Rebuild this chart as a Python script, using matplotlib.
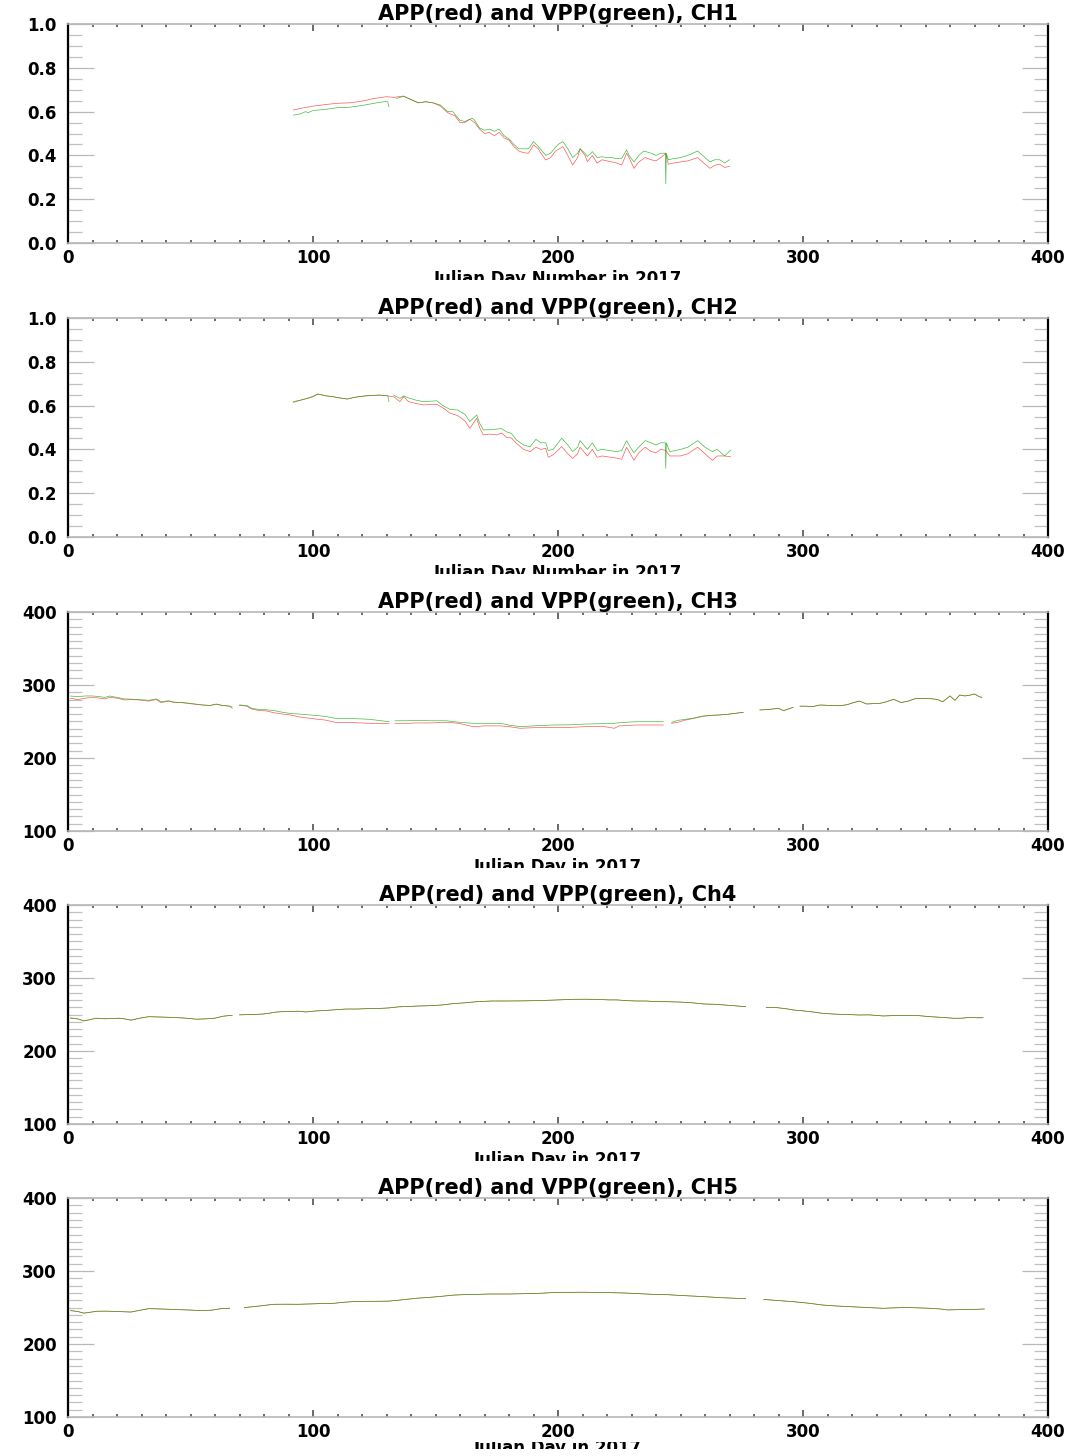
import numpy as np
import matplotlib
matplotlib.use("Agg")
import matplotlib.pyplot as plt
from matplotlib.ticker import MultipleLocator
from matplotlib.transforms import Bbox, TransformedBbox

NAN = np.nan

# ---------------- data ----------------
# CH1 (reflectance)
ch1_red_day = [92, 95, 100, 105, 110, 115, 120, 125, 130, 133, 137, 140, 143, 146, 149, 152, 155, 158,
               160, 162, 164, 166, 168, 170, 172, 174, 176, 178, 180, 182, 184, 186, 188, 190, 192, 193,
               195, 197, 199, 202, 204, 206, 208, 209, 211, 212, 214, 216, 218, 220, 222, 224, 226, 228,
               229, 231, 233, 235.5, 238, 240, 242, 244, 245, 247, 250, 253, 257, 259, 262, 264, 266, 268, 270]
ch1_red = [0.607, 0.615, 0.625, 0.632, 0.638, 0.640, 0.648, 0.660, 0.668, 0.665, 0.671, 0.655, 0.640, 0.645,
           0.640, 0.625, 0.595, 0.580, 0.550, 0.550, 0.565, 0.550, 0.520, 0.500, 0.505, 0.490, 0.505, 0.480,
           0.470, 0.440, 0.420, 0.412, 0.410, 0.448, 0.430, 0.410, 0.379, 0.390, 0.420, 0.440, 0.400, 0.356,
           0.390, 0.430, 0.400, 0.371, 0.400, 0.365, 0.380, 0.375, 0.370, 0.365, 0.356, 0.410, 0.390, 0.341,
           0.370, 0.390, 0.380, 0.375, 0.390, 0.410, 0.360, 0.365, 0.370, 0.375, 0.390, 0.370, 0.341, 0.355,
           0.360, 0.345, 0.350]
ch1_grn_day = [92, 95, 97, 98, 100, 105, 110, 115, 120, 125, 129, 130.5, 131, 131.5, 134, 137, 140, 143, 146,
               149, 152, 155, 157, 160, 162, 165, 166, 168, 170, 172, 174, 176, 178, 180, 182, 184, 188,
               190, 192, 195, 197, 200, 202, 204, 206, 208, 209, 211, 212, 214, 216, 218, 220, 222, 224,
               226, 228, 229, 231, 233, 235, 238, 240, 242, 243.8, 244, 244.2, 245, 247, 250, 253, 257,
               259, 262, 264, 266, 268, 270]
ch1_grn = [0.584, 0.590, 0.600, 0.595, 0.605, 0.610, 0.618, 0.620, 0.628, 0.638, 0.645, 0.645, 0.622, NAN,
           0.660, 0.670, 0.655, 0.640, 0.645, 0.640, 0.630, 0.600, 0.600, 0.560, 0.555, 0.570, 0.560, 0.525,
           0.515, 0.520, 0.510, 0.520, 0.490, 0.475, 0.450, 0.430, 0.430, 0.463, 0.440, 0.400, 0.410, 0.450,
           0.463, 0.430, 0.390, 0.410, 0.430, 0.410, 0.395, 0.417, 0.390, 0.394, 0.390, 0.390, 0.385, 0.386,
           0.425, 0.400, 0.370, 0.400, 0.420, 0.410, 0.400, 0.410, 0.410, 0.270, 0.410, 0.380, 0.385, 0.390,
           0.400, 0.420, 0.400, 0.370, 0.380, 0.380, 0.365, 0.380]

# CH2 (reflectance)
ch2_day = [92, 95, 98, 102, 105, 108, 111, 114, 117, 121, 124, 127, 130, 133, 135.5, 137, 139, 142, 145,
           148, 150.5, 153, 156, 159, 162, 164, 166.8, 168, 169.5, 172, 175, 177, 179, 181, 183, 186,
           188.6, 191, 193, 195, 196, 198, 201.5, 204, 206, 208, 209, 212, 214, 216, 218, 221, 224, 226,
           228, 229.5, 231, 233, 235.6, 238, 240, 242, 244, 245.6, 248, 250, 253, 257, 260, 263, 265,
           268, 270.5]
ch2_red = [0.618, 0.625, 0.633, 0.653, 0.645, 0.641, 0.635, 0.630, 0.638, 0.644, 0.646, 0.648, 0.645, 0.640,
           0.618, 0.641, 0.618, 0.610, 0.603, 0.605, 0.606, 0.590, 0.565, 0.555, 0.530, 0.496, 0.542, 0.500,
           0.466, 0.470, 0.466, 0.475, 0.455, 0.452, 0.428, 0.400, 0.390, 0.410, 0.400, 0.405, 0.364, 0.375,
           0.413, 0.380, 0.359, 0.380, 0.410, 0.370, 0.400, 0.364, 0.370, 0.365, 0.360, 0.355, 0.410, 0.380,
           0.350, 0.385, 0.410, 0.390, 0.385, 0.400, 0.395, 0.370, 0.370, 0.370, 0.380, 0.410, 0.380, 0.350,
           0.370, 0.370, 0.366]
ch2_grn_day = [92, 95, 98, 100, 102, 105, 108, 111, 114, 117, 121, 124, 127, 130.5, 131, 131.5, 133, 135.5,
               137, 139, 142, 145, 148, 150.5, 153, 156, 159, 162, 164, 166.8, 168, 169.5, 172, 175, 177,
               179, 181, 183, 186, 188.6, 191, 193, 195, 196, 198, 201.5, 204, 206, 208, 209, 212, 214, 216,
               218, 221, 224, 226, 228, 229.5, 231, 233, 235.6, 238, 240, 242, 243.8, 244, 244.2, 245.6,
               248, 250, 253, 257, 260, 263, 265, 268, 270.5]
ch2_grn = [0.615, 0.625, 0.635, 0.640, 0.653, 0.645, 0.641, 0.635, 0.630, 0.638, 0.644, 0.646, 0.648, 0.645,
           0.618, NAN, 0.647, 0.633, 0.644, 0.635, 0.625, 0.618, 0.620, 0.622, 0.600, 0.582, 0.580, 0.560,
           0.527, 0.557, 0.520, 0.489, 0.490, 0.493, 0.495, 0.480, 0.473, 0.443, 0.420, 0.412, 0.446, 0.430,
           0.430, 0.395, 0.400, 0.451, 0.420, 0.390, 0.410, 0.440, 0.400, 0.430, 0.395, 0.400, 0.395, 0.390,
           0.395, 0.440, 0.410, 0.385, 0.410, 0.440, 0.430, 0.420, 0.430, 0.430, 0.314, 0.430, 0.390, 0.395,
           0.400, 0.410, 0.440, 0.410, 0.390, 0.400, 0.370, 0.397]

# CH3 (brightness temperature), NaN marks data gaps
ch3_day = [1, 4, 7, 10, 13, 15, 17, 20, 23, 26, 29, 33, 36, 38, 41, 43.5, 46, 48.4, 52, 55, 58, 60.6, 63,
           66, 67, 68.5, 70, 73, 75, 78, 81, 84, 87, 90.6, 95, 98.8, 102, 105, 109, 115, 120, 123, 128,
           131, 132.3, 133.5, 138, 142, 148, 154.5, 159.5, 165.4, 170, 176.7, 180, 184.5, 190, 198, 205,
           211.7, 218, 223, 225, 232, 238, 243, 244.7, 246.4, 249, 252, 255, 259, 263, 266, 269, 272,
           275.6, 279, 282.4, 286, 290, 292, 296, 297.5, 298.8, 301, 304, 307, 311, 315, 318, 320.5, 323,
           326, 329, 331.6, 334, 337, 340, 343, 346, 350, 353, 355, 357, 360, 362, 364, 366, 368, 370,
           372, 373]
ch3_grn = [284.9, 284, 285, 285, 284, 283, 284.9, 283, 281, 280.5, 280, 279, 281, 277, 278.5, 276.5, 276,
           275.5, 274, 272.6, 272, 274, 272, 271, 270, NAN, 272.6, 272, 268, 266.5, 266, 265, 263, 261,
           260, 259, 258, 257, 254.4, 254, 253.5, 253, 251, 249.8, NAN, 251, 251, 251.6, 251, 251, 249,
           247.5, 247.5, 247.5, 245, 243, 244, 245.2, 245.5, 246.6, 247, 247.5, 248.3, 249.7, 249.7, 249.7,
           NAN, 248.8, 251.6, 253, 254.4, 257.5, 258.5, 259, 259.8, 261, 262.6, NAN, 265.8, 266.5, 268,
           264.8, 269.4, NAN, 271, 271, 270.5, 272.6, 272, 271.6, 273, 275.8, 278, 274, 274.5, 275, 277,
           280.4, 276, 278, 281.5, 281.5, 281, 280, 277, 285, 279, 286.3, 285, 286, 287.7, 284, 283]
ch3_red = [281.8, 280, 282, 283, 282, 281, 283, 282, 279.5, 280, 279.5, 278, 280, 275.8, 278, 275.8, 276,
           275, 273.5, 272.6, 272, 273.5, 272, 271, 268, NAN, 272, 271, 267, 265, 264.5, 262, 260.5, 259,
           256, 254.4, 253, 252, 248.9, 248.5, 248, 247.5, 247.5, 247.5, NAN, 247.5, 247.5, 248, 248, 249,
           247.5, 242.9, 244, 244, 243, 240.7, 241.5, 242, 242, 243, 243.5, 240.7, 244, 245.2, 245.2, 245.2,
           NAN, 247.5, 249, 252, 254, 257, 258.5, 259, 259.8, 261, 262.6, NAN, 265.8, 266.5, 268,
           264.8, 269.4, NAN, 271, 271, 270.5, 272.6, 272, 271.6, 273, 275.8, 278, 274, 274.5, 275, 277,
           280.4, 276, 278, 281.5, 281.5, 281, 280, 277, 285, 279, 286.3, 285, 286, 287.7, 284, 283]

# CH4
ch4_day = [1, 4, 6.5, 9, 11.5, 15, 18, 21, 23, 25.7, 28, 31, 33, 38, 43, 48, 52.7, 56, 60, 63, 67, 68.5,
           70, 75, 79, 82, 84, 86.8, 90, 94, 97, 101, 105, 109, 113.5, 118, 122, 125, 128, 131, 135, 139,
           142.8, 147, 152.5, 155, 157.4, 162, 167, 173, 179, 185, 191.4, 196, 201, 206, 211, 216, 220.7,
           224, 228, 232, 236, 240, 245, 250, 255, 259.6, 264, 268, 272, 276.6, 280, 285, 289, 293, 296,
           300, 304, 308, 313, 318, 322.8, 327, 332.7, 337, 342.5, 347, 352, 357, 361.8, 365, 368, 371,
           373.5]
ch4_grn = [244.8, 244, 241, 243, 244.8, 244, 244.5, 244.8, 244, 242, 244, 246, 247, 246.5, 246, 245, 243.4,
           244, 245, 247.5, 249, NAN, 249.5, 250, 250.5, 251.6, 253, 253.8, 254, 254.5, 253.5, 254.8, 255.5,
           256.5, 257.5, 257.5, 258, 258, 258.5, 259, 260.5, 261, 261.6, 262, 263, 264, 265, 266, 267.6,
           268.5, 268.5, 268.5, 269, 269.5, 270, 270.8, 270.8, 270.5, 270, 270, 269, 268.5, 268.5, 267.6,
           267.5, 267, 266, 264.4, 264, 263, 262, 260.7, NAN, 259.8, 259.5, 258, 256.2, 255, 253.5, 251.6,
           250.5, 250, 249.3, 249.5, 248, 248.5, 248.8, 248.5, 247, 246, 244.8, 245, 246, 245.5, 245.6]
ch4_red = [245.5, 244, 241.5, 243, 245, 244.5, 244.5, 245, 244, 242.5, 244, 246, 247, 246.5, 246, 245, 243.6,
           244, 245, 247.5, 249, NAN, 249.5, 250, 250.5, 251.6, 253, 253.8, 254, 254.5, 253.5, 254.8, 255.5,
           256.5, 257.5, 257.5, 258, 258, 258.5, 259, 260.5, 261, 261.6, 262, 263, 264, 265, 266, 267.6,
           268.5, 268.5, 268.8, 269, 269.5, 270.2, 270.8, 271, 270.8, 270, 270, 269, 268.5, 268.5, 267.6,
           267.5, 267, 266, 264.4, 264, 263, 262, 260.7, NAN, 259.8, 259.5, 258, 256.2, 255, 253.5, 251.6,
           250.5, 250, 249.3, 249.5, 248, 248.5, 248.8, 248.5, 247, 246, 244.8, 245, 246, 245.5, 245.6]

# CH5
ch5_day = [1, 4, 6.5, 9, 12, 16, 20, 25.7, 29, 33, 38, 45.5, 50, 55, 59, 62.5, 66, 68, 72, 78, 84, 89, 94,
           100, 104, 108.7, 112, 116, 122, 126, 130.7, 135, 139, 142.8, 148, 153, 157.4, 163, 167, 172, 180,
           187, 193, 199, 205, 211, 218, 226, 233, 240, 245, 250, 256, 262, 266, 270, 276.6, 280, 284, 290,
           296, 302, 308, 314, 320, 326, 332.7, 337, 342.5, 347, 352, 356, 359, 363, 367, 371, 374]
ch5_grn = [245.6, 244.5, 242, 243.5, 244.8, 245, 244.5, 243.6, 246, 248.4, 248, 247, 246.5, 245.6, 246.5,
           248.4, 249, NAN, 249.9, 252, 254.4, 254.5, 254.4, 255, 255.5, 255.8, 257, 258, 258.5, 258.5,
           258.7, 260, 261.5, 262.8, 264, 265.5, 267, 267.8, 268, 268.5, 268.5, 269, 269.5, 270.8, 270.8,
           270.8, 270.5, 270, 269, 267.8, 267.5, 266.5, 265.5, 264.4, 263.5, 263, 262, NAN, 261, 259.5,
           258, 256, 253.4, 252, 251, 250, 248.9, 249.5, 250, 249.5, 248.9, 248, 246.7, 247, 247.5, 247.5, 248]
ch5_red = [246, 244.5, 242.5, 243.5, 245, 245, 244.5, 244, 246, 248.4, 248, 247, 246.5, 245.6, 246.5,
           248.4, 249, NAN, 249.9, 252, 254.4, 254.5, 254.4, 255, 255.5, 255.8, 257, 258, 258.5, 258.5,
           258.7, 260, 261.5, 262.8, 264, 265.5, 267, 267.8, 268, 268.5, 268.5, 269, 269.5, 270.5, 270.8,
           271, 270.5, 270, 269, 267.8, 267.5, 266.5, 265.5, 264.4, 263.5, 263, 262, NAN, 261, 259.5,
           258, 256, 253.4, 252, 251, 250, 248.9, 249.5, 250, 249.5, 248.9, 248, 246.7, 247, 247.5, 247.5, 248]

titles = ["APP(red) and VPP(green), CH1", "APP(red) and VPP(green), CH2", "APP(red) and VPP(green), CH3",
          "APP(red) and VPP(green), Ch4", "APP(red) and VPP(green), CH5"]
xlabels = ["Julian Day Number in 2017", "Julian Day Number in 2017", "Julian Day in 2017",
           "Julian Day in 2017", "Julian Day in 2017"]

panels = [
    (ch1_red_day, ch1_red, ch1_grn_day, ch1_grn, (0.0, 1.0), 0.2, 0.05, "{:.1f}"),
    (ch2_day, ch2_red, ch2_grn_day, ch2_grn, (0.0, 1.0), 0.2, 0.05, "{:.1f}"),
    (ch3_day, ch3_red, ch3_day, ch3_grn, (100, 400), 100, 10, "{:.0f}"),
    (ch4_day, ch4_red, ch4_day, ch4_grn, (100, 400), 100, 10, "{:.0f}"),
    (ch5_day, ch5_red, ch5_day, ch5_grn, (100, 400), 100, 10, "{:.0f}"),
]

# ---------------- layout (pixels of the 1081x1456 reference) ----------------
W, H = 1081, 1456
LEFT, RIGHT = 68, 1048
TOPS = [24, 318, 612, 905, 1198]
AX_H = 219
FONT = "DejaVu Sans"

fig = plt.figure(figsize=(W / 100, H / 100), dpi=100)

for i, (rd, rv, gd, gv, ylim, ymaj, ymin, fmt) in enumerate(panels):
    top = TOPS[i]
    ax = fig.add_axes([LEFT / W, 1 - (top + AX_H) / H, (RIGHT - LEFT) / W, AX_H / H])
    ax.plot(rd, rv, color="#ff2020", lw=0.5, alpha=0.75, zorder=2)
    ax.plot(gd, gv, color="#00a800", lw=0.5, alpha=0.75, zorder=3)
    ax.set_xlim(0, 400)
    ax.set_ylim(*ylim)

    ax.xaxis.set_major_locator(MultipleLocator(100))
    ax.xaxis.set_minor_locator(MultipleLocator(10))
    ax.yaxis.set_major_locator(MultipleLocator(ymaj))
    ax.yaxis.set_minor_locator(MultipleLocator(ymin))
    ax.tick_params(axis="x", which="major", direction="in", length=5, width=1.2, color="#505050",
                   top=True, bottom=True, pad=4)
    ax.tick_params(axis="x", which="minor", direction="in", length=2.5, width=1.2, color="#505050",
                   top=True, bottom=True)
    ax.tick_params(axis="y", which="major", direction="in", length=19, width=0.9, color="#b8b8b8",
                   left=True, right=True, pad=8)
    ax.tick_params(axis="y", which="minor", direction="in", length=10, width=0.9, color="#c0c0c0",
                   left=True, right=True)

    yt = np.arange(ylim[0], ylim[1] + ymaj / 2, ymaj)
    ax.set_yticks(yt)
    ax.set_yticklabels([fmt.format(v) for v in yt], fontsize=12, fontweight="bold", family=FONT)
    xt = [0, 100, 200, 300, 400]
    ax.set_xticks(xt)
    ax.set_xticklabels([str(v) for v in xt], fontsize=12, fontweight="bold", family=FONT)

    for side in ["top", "bottom"]:
        ax.spines[side].set_color("#b8b8b8")
        ax.spines[side].set_linewidth(1.2)
    for side in ["left", "right"]:
        ax.spines[side].set_color("black")
        ax.spines[side].set_linewidth(1.6)

    fig.text(558 / W, 1 - (top - 10) / H, titles[i], ha="center", va="center",
             fontsize=15, fontweight="bold", family=FONT)

    # axis label is cut off at the bottom in the reference
    ly = min(top + AX_H + 36, H - 8)
    lab = fig.text(558 / W, 1 - ly / H, xlabels[i], ha="center", va="center",
                   fontsize=12, fontweight="bold", family=FONT)
    clip = Bbox([[0, 1 - (ly + 1) / H], [1, 1 - (top + AX_H + 25) / H]])
    lab.set_clip_box(TransformedBbox(clip, fig.transFigure))
    lab.set_clip_on(True)

fig.savefig("out.png", dpi=100, facecolor="white")
